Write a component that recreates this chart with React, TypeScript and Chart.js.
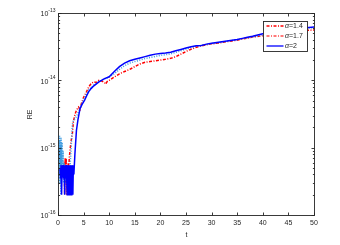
import React, { useEffect, useRef } from "react";
import { Chart, registerables } from "chart.js";

Chart.register(...registerables);

// alpha = 2 (blue, solid)
const tA2 = [0.4,0.5,0.6,0.7,0.8,0.9,1.0,1.1,1.2,1.3,1.4,1.5,1.6,1.7,1.8,1.9,2.0,2.1,2.2,2.3,2.4,2.5,2.6,2.7,2.8,2.9,3.0,3.1,3.3,3.6,3.9,4.3,4.7,5.2,5.6,6,6.5,7,8,9,10,11,12,12.5,13,14,15,16,17,18,19,20,21,22,23,24,25,26,27,28,29,30,31,32,33,34,35,36,37,38,39,40,42,44,46,48,50];
const vA2 = [5e-16,3.5e-16,5.5e-16,2e-16,5e-16,3.6e-16,5.5e-16,3.5e-16,5.2e-16,2e-16,5.5e-16,3.5e-16,5.5e-16,3.5e-16,2e-16,5.5e-16,3.5e-16,5.5e-16,2e-16,5.5e-16,3.5e-16,5.5e-16,2e-16,5.5e-16,3.5e-16,2e-16,5.5e-16,4e-16,8e-16,1.8e-15,2.6e-15,3.8e-15,4.4e-15,5.1e-15,5.9e-15,6.8e-15,7.6e-15,8.3e-15,9.5e-15,1.05e-14,1.13e-14,1.35e-14,1.6e-14,1.7e-14,1.8e-14,1.95e-14,2.05e-14,2.15e-14,2.25e-14,2.35e-14,2.45e-14,2.5e-14,2.55e-14,2.62e-14,2.75e-14,2.88e-14,3.02e-14,3.15e-14,3.25e-14,3.3e-14,3.45e-14,3.55e-14,3.65e-14,3.75e-14,3.85e-14,3.95e-14,4.05e-14,4.2e-14,4.35e-14,4.5e-14,4.7e-14,4.9e-14,5.1e-14,5.4e-14,5.7e-14,6e-14,6.2e-14];

// alpha = 1.7 (light blue, dotted)
const tA17 = [0.2,0.25,0.3,0.35,0.4,0.45,0.5,0.55,0.6,0.7,0.8,0.9,1.0,1.1,1.2,1.4,1.6,1.8,2.0,2.2,2.4,2.6,2.8,3.0,3.3,3.6,4,4.5,5,6,7,8,9,10,11,12,13,14,15,16,17,18,19,20,21,22,23,24,25,26,27,28,29,30,32,34,36,38,40,42,44,46,48,50];
const vA17 = [1.2e-15,3e-16,1.5e-15,4e-16,1.3e-15,3e-16,1.1e-15,2e-16,1.4e-15,4e-16,1.2e-15,5e-16,9e-16,3e-16,6e-16,3e-16,5e-16,2e-16,5e-16,3e-16,6e-16,1.1e-15,2.2e-15,2.5e-15,2.7e-15,2.9e-15,3.4e-15,4.2e-15,5.2e-15,7.2e-15,8.6e-15,9.6e-15,1.05e-14,1.12e-14,1.25e-14,1.45e-14,1.65e-14,1.8e-14,1.9e-14,2e-14,2.1e-14,2.18e-14,2.26e-14,2.35e-14,2.4e-14,2.48e-14,2.6e-14,2.75e-14,2.92e-14,3.08e-14,3.2e-14,3.3e-14,3.4e-14,3.5e-14,3.7e-14,3.9e-14,4.15e-14,4.4e-14,4.7e-14,5e-14,5.3e-14,5.6e-14,5.9e-14,6.1e-14];

// alpha = 1.4 (red, dash-dot)
const tA14 = [1.2,1.3,1.4,1.5,1.6,1.7,1.8,1.9,2.0,2.1,2.2,2.4,2.6,2.8,3.0,3.3,3.6,4.0,4.3,4.6,5,5.5,6,6.5,7,7.5,8,8.5,9,9.3,9.6,10,11,12,13,14,15,16,17,18,19,20,21,22,23,24,25,26,27,28,29,30,31,32,33,34,35,36,37,38,40,42,44,46,48,50];
const vA14 = [6e-16,2e-16,7e-16,3e-16,7e-16,2e-16,5e-16,2.5e-16,6e-16,4e-16,7e-16,1e-15,1.3e-15,1.6e-15,2.4e-15,3.1e-15,3.6e-15,4e-15,3.7e-15,4.6e-15,5.6e-15,6.6e-15,8e-15,9e-15,9.5e-15,9.3e-15,1e-14,9.8e-15,9.4e-15,8.8e-15,9.6e-15,1e-14,1.12e-14,1.25e-14,1.35e-14,1.45e-14,1.6e-14,1.75e-14,1.85e-14,1.9e-14,1.95e-14,2e-14,2.05e-14,2.12e-14,2.25e-14,2.45e-14,2.68e-14,2.9e-14,3.1e-14,3.25e-14,3.38e-14,3.48e-14,3.55e-14,3.65e-14,3.75e-14,3.85e-14,3.95e-14,4.1e-14,4.25e-14,4.4e-14,4.6e-14,4.85e-14,5.1e-14,5.3e-14,5.5e-14,5.6e-14];

const xTicks = [0, 5, 10, 15, 20, 25, 30, 35, 40, 45, 50];
const yTickExps = [-16, -15, -14, -13];
const legendLabels = ["1.4", "1.7", "2"];
const xTitle = "t";
const yTitle = "RE";

const FONT = "Liberation Sans, Arial, sans-serif";
const AX = "#262626";

const axesPlugin = {
  id: "matlabAxes",
  afterDatasetsDraw(chart: any) {
    const { ctx, chartArea: ca, scales } = chart;
    const xs = scales.x, ys = scales.y;
    const L = Math.round(ca.left) + 0.5, R = Math.round(ca.right) + 0.5;
    const T = Math.round(ca.top) + 0.5, B = Math.round(ca.bottom) + 0.5;
    ctx.save();
    ctx.strokeStyle = AX;
    ctx.lineWidth = 0.9;
    ctx.setLineDash([]);
    ctx.strokeRect(L, T, R - L, B - T);
    ctx.beginPath();
    for (const v of xTicks) {
      const px = Math.round(xs.getPixelForValue(v)) + 0.5;
      ctx.moveTo(px, B); ctx.lineTo(px, B - 3);
      ctx.moveTo(px, T); ctx.lineTo(px, T + 3);
    }
    for (let e = yTickExps[0]; e <= yTickExps[yTickExps.length - 1]; e++) {
      for (let m = 1; m <= 9; m++) {
        if (e === yTickExps[yTickExps.length - 1] && m > 1) break;
        const val = m * Math.pow(10, e);
        const py = Math.round(ys.getPixelForValue(val)) + 0.5;
        const len = m === 1 ? 3 : 1.6;
        ctx.moveTo(L, py); ctx.lineTo(L + len, py);
        ctx.moveTo(R, py); ctx.lineTo(R - len, py);
      }
    }
    ctx.stroke();

    ctx.fillStyle = AX;
    ctx.font = `7px ${FONT}`;
    ctx.textAlign = "center";
    ctx.textBaseline = "middle";
    for (const v of xTicks) {
      ctx.fillText(String(v), xs.getPixelForValue(v), B + 8);
    }
    for (const e of yTickExps) {
      const py = ys.getPixelForValue(Math.pow(10, e));
      const exp = String(e);
      ctx.font = `5px ${FONT}`;
      const ew = ctx.measureText(exp).width;
      ctx.textAlign = "left";
      ctx.fillText(exp, L - 3 - ew, py - 2.5);
      ctx.font = `7px ${FONT}`;
      ctx.textAlign = "right";
      ctx.fillText("10", L - 3 - ew, py + 1.5);
    }
    ctx.font = `7px ${FONT}`;
    ctx.textAlign = "center";
    ctx.fillText(xTitle, (L + R) / 2, B + 20);
    ctx.save();
    ctx.translate(30, (T + B) / 2);
    ctx.rotate(-Math.PI / 2);
    ctx.fillText(yTitle, 0, 0);
    ctx.restore();

    const lx = 263.5, ly = 21.5, lw = 44, lh = 30;
    ctx.fillStyle = "#ffffff";
    ctx.fillRect(lx, ly, lw, lh);
    ctx.strokeStyle = AX;
    ctx.lineWidth = 0.9;
    ctx.strokeRect(lx, ly, lw, lh);
    const styles = [
      { c: "#ff0000", d: [3, 1.5, 1, 1.5], w: 1.3 },
      { c: "#ff4d4d", d: [3, 1.5, 1, 1.5], w: 1.3 },
      { c: "#0000ff", d: [], w: 1.3 },
    ];
    legendLabels.forEach((lab, i) => {
      const y = ly + 4.5 + i * 10;
      ctx.strokeStyle = styles[i].c;
      ctx.lineWidth = styles[i].w;
      ctx.setLineDash(styles[i].d);
      ctx.beginPath();
      ctx.moveTo(lx + 3, y);
      ctx.lineTo(lx + 20, y);
      ctx.stroke();
      ctx.setLineDash([]);
      ctx.fillStyle = AX;
      ctx.textAlign = "left";
      ctx.font = `italic 7px ${FONT}`;
      ctx.fillText("α", lx + 21.5, y + 0.5);
      const aw = ctx.measureText("α").width;
      ctx.font = `7px ${FONT}`;
      ctx.fillText("=" + lab, lx + 21.5 + aw, y + 0.5);
    });
    ctx.restore();
  },
};

function pts(t: number[], v: number[]) {
  return t.map((x, i) => ({ x, y: v[i] }));
}

export default function App() {
  const ref = useRef<HTMLCanvasElement>(null);
  useEffect(() => {
    document.body.style.margin = "0";
    const chart = new Chart(ref.current!, {
      type: "line",
      data: {
        datasets: [
          { label: "α=2", data: pts(tA2, vA2), borderColor: "#0000ff", borderWidth: 1.5, pointRadius: 0, tension: 0, fill: false },
          { label: "α=1.7", data: pts(tA17, vA17), borderColor: "#3d9be0", borderWidth: 1.5, borderDash: [1, 1.5], pointRadius: 0, tension: 0, fill: false },
          { label: "α=1.4", data: pts(tA14, vA14), borderColor: "#ff0000", borderWidth: 1.5, borderDash: [3, 1.5, 1, 1.5], pointRadius: 0, tension: 0, fill: false },
        ],
      },
      options: {
        responsive: false,
        animation: false,
        events: [],
        layout: { padding: { left: 58, top: 13, right: 26, bottom: 30 } },
        plugins: { legend: { display: false }, tooltip: { enabled: false }, title: { display: false } },
        scales: {
          x: { type: "linear", min: 0, max: 50, display: false },
          y: { type: "logarithmic", min: 1e-16, max: 1e-13, display: false },
        },
      },
      plugins: [axesPlugin],
    });
    return () => chart.destroy();
  }, []);
  return <canvas ref={ref} width={340} height={245} style={{ display: "block" }} />;
}
